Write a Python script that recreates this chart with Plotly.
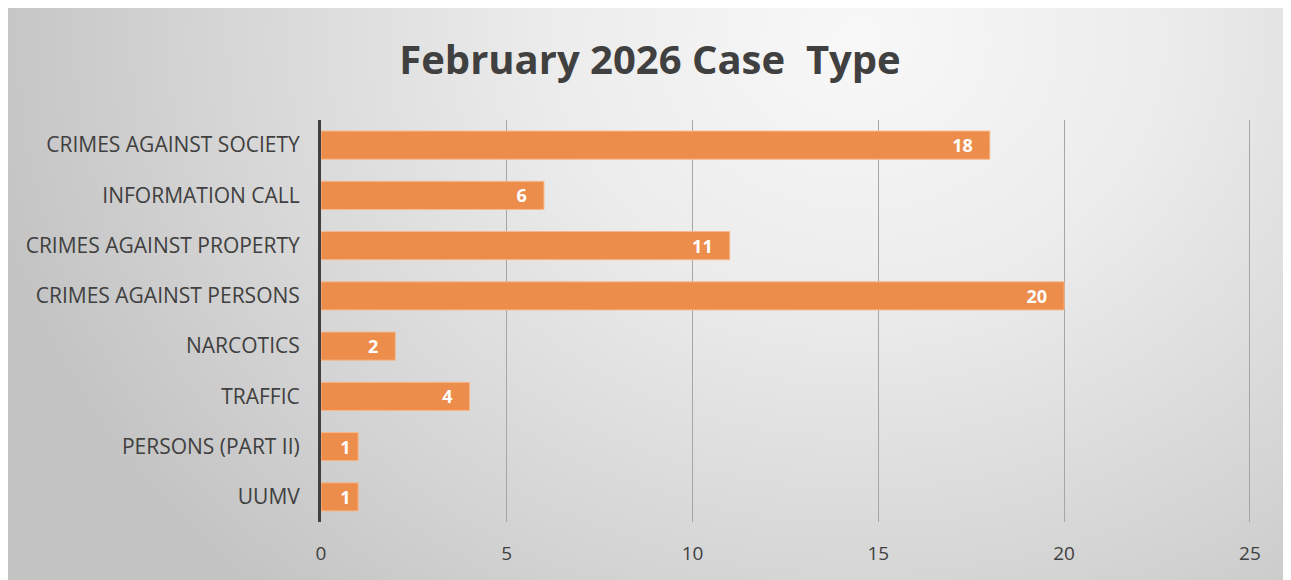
import base64
import plotly.graph_objects as go

categories = ["CRIMES AGAINST SOCIETY", "INFORMATION CALL", "CRIMES AGAINST PROPERTY",
              "CRIMES AGAINST PERSONS", "NARCOTICS", "TRAFFIC", "PERSONS (PART II)", "UUMV"]
counts = [18, 6, 11, 20, 2, 4, 1, 1]
x_ticks = [0, 5, 10, 15, 20, 25]

# page body has an 8px margin, so the figure is a bit smaller than the window
W, H = 1283, 572
L, R, T, B = 313, 40, 112, 58
pw, ph = W - L - R, H - T - B

# radial grey background like the Excel chart area
svg = f"""<svg xmlns='http://www.w3.org/2000/svg' width='{W}' height='{H}' viewBox='0 0 {W} {H}' preserveAspectRatio='none'>
<defs><radialGradient id='g' gradientUnits='userSpaceOnUse' cx='850' cy='30' r='880'
 gradientTransform='translate(850 30) scale(1 0.85) translate(-850 -30)'>
<stop offset='0' stop-color='#f8f8f8'/><stop offset='0.35' stop-color='#ececec'/>
<stop offset='0.75' stop-color='#d4d4d4'/><stop offset='1' stop-color='#c4c4c4'/></radialGradient></defs>
<rect x='0' y='0' width='{W}' height='{H}' fill='url(#g)'/></svg>"""
bg = "data:image/svg+xml;base64," + base64.b64encode(svg.encode()).decode()

# short bars get their label roughly centred, like Excel does
label_fmt = ["%{x}" + "\u00a0" * (1 if v < 2 else 3) for v in counts]

fig = go.Figure()
fig.add_trace(go.Bar(
    y=categories, x=counts, orientation="h",
    marker=dict(color="rgb(237,141,76)", line=dict(color="rgb(246,184,140)", width=1)),
    texttemplate=label_fmt, textposition="inside", insidetextanchor="end",
    textangle=0, constraintext="none",
    textfont=dict(family="Open Sans", size=18, color="white", weight="bold"),
    cliponaxis=False, width=0.56,
))

fig.add_layout_image(dict(
    source=bg, xref="paper", yref="paper",
    x=-L / pw, y=1 + T / ph, sizex=W / pw, sizey=H / ph,
    sizing="stretch", xanchor="left", yanchor="top", layer="below",
))

fig.update_layout(
    width=W, height=H,
    margin=dict(l=L, r=R, t=T, b=B),
    paper_bgcolor="white", plot_bgcolor="rgba(0,0,0,0)",
    showlegend=False,
    uniformtext=dict(minsize=18, mode="show"),
    title=dict(text="<b>February 2026 Case\u00a0 Type</b>", x=642 / W, xanchor="center",
               y=1 - 52 / H, yanchor="middle",
               font=dict(family="Open Sans", size=40, color="#404040")),
    font=dict(family="Open Sans", color="#404040"),
    bargap=0.44,
)
fig.update_xaxes(range=[0, 25.03], tickvals=x_ticks, showgrid=True, gridcolor="#a6a6a6",
                 gridwidth=1, zeroline=False, showline=False,
                 tickfont=dict(size=19, color="#404040"), ticks="", ticklabelstandoff=18)
fig.update_yaxes(categoryorder="array", categoryarray=categories[::-1],
                 showline=True, linecolor="#404040", linewidth=3,
                 tickfont=dict(size=21, color="#404040"), ticks="", ticklabelstandoff=14)

fig.write_html("out.html")
